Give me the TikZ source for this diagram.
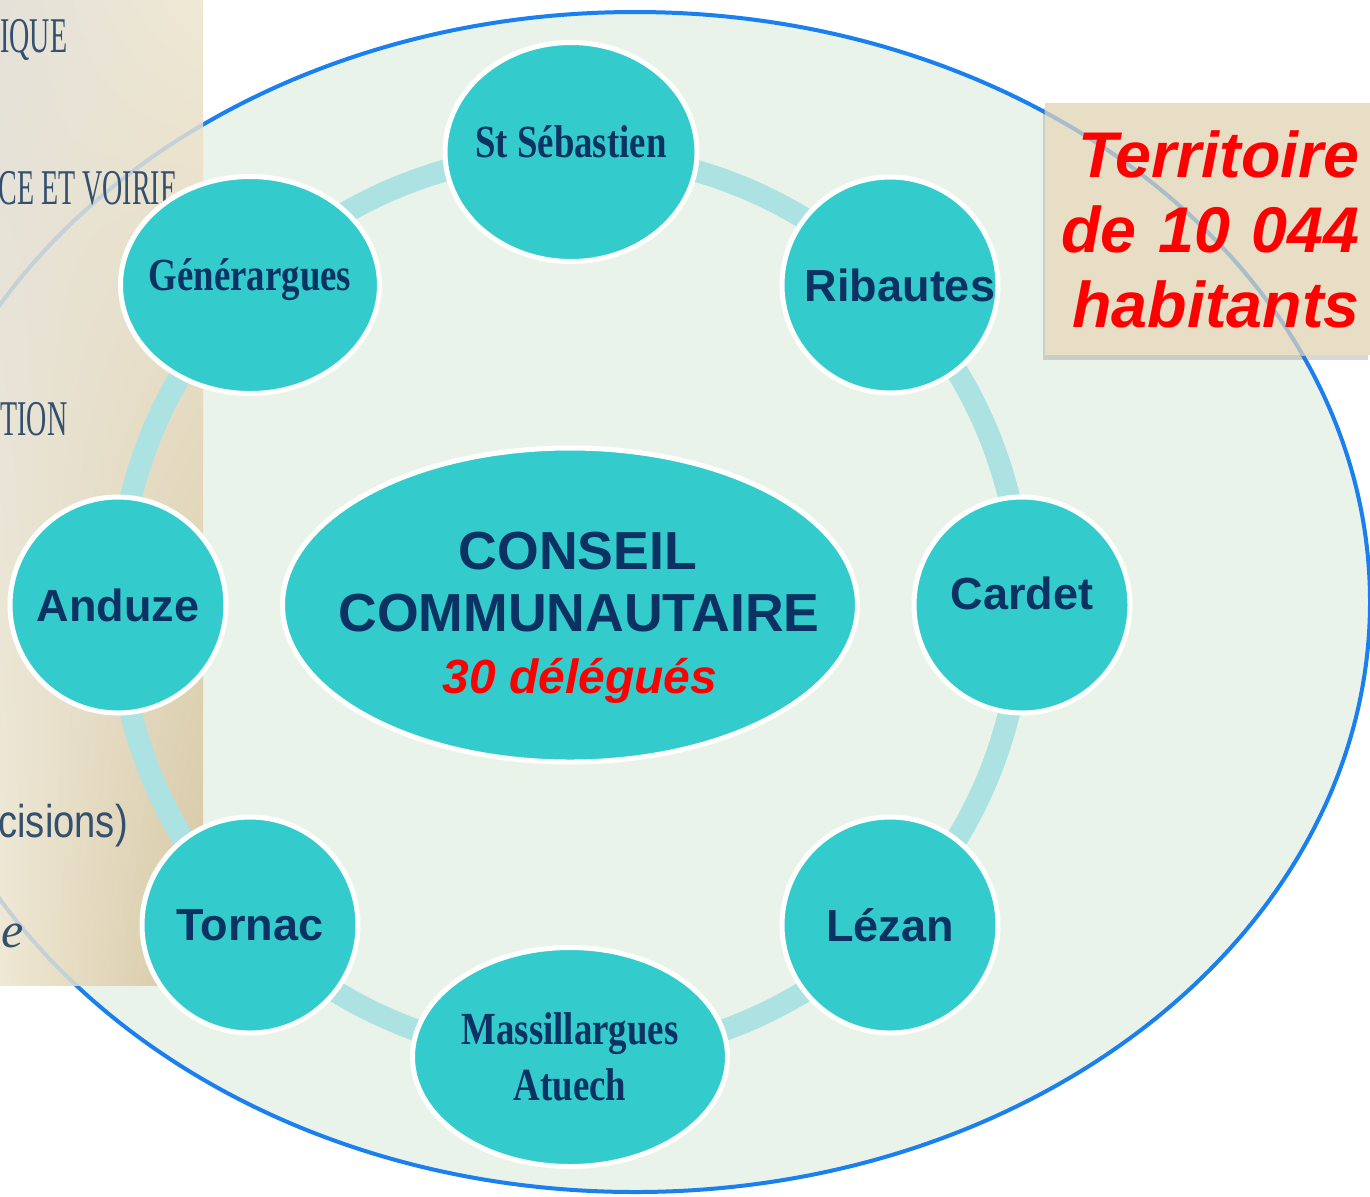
\documentclass[tikz,border=0pt]{standalone}
\usepackage{fontspec}
\setmainfont{Liberation Sans}
\newfontfamily\townfont[FakeStretch=0.8]{Liberation Serif}
\newfontfamily\panelfont[FakeStretch=0.56]{Liberation Serif}
\newfontfamily\narrowfont[FakeStretch=0.83]{Liberation Sans}
\newfontfamily\slantfont{Liberation Serif}
\usetikzlibrary{shapes.geometric,shadows,shadings}

\definecolor{nodeteal}{HTML}{33CBCC}
\definecolor{navy}{HTML}{0C3263}
\definecolor{ringteal}{HTML}{ACE2E2}
\definecolor{zonefill}{HTML}{EAF3EA}
\definecolor{zoneblue}{HTML}{1A7FEF}
\definecolor{fadedblue}{HTML}{C4D2D8}
\definecolor{boxline}{HTML}{A8BCCB}
\definecolor{slatetext}{HTML}{33506E}
\definecolor{panelA}{HTML}{E4E1D8}
\definecolor{panelB}{HTML}{EFE8D4}
\definecolor{panelC}{HTML}{D6C7A3}
\definecolor{boxbeige}{HTML}{E8DEC6}

% keeps a label from widening its ellipse
\newcommand\slimlabel[1]{\makebox[0pt]{#1}}

\tikzset{
	commune/.style={ellipse, fill=nodeteal, draw=white, line width=2.5pt, inner sep=0pt,
		text=navy, align=center, font=\bfseries\fontsize{22.5}{26}\selectfont},
	town/.style={commune, font=\townfont\bfseries\fontsize{23}{28}\selectfont},
	paneltext/.style={anchor=base west, inner sep=0pt, text=slatetext,
		font=\panelfont\fontsize{25}{30}\selectfont},
	territory/.style={rectangle, fill=boxbeige, minimum width=162.5pt, minimum height=126pt,
		drop shadow={shadow xshift=-1pt, shadow yshift=-2.5pt, opacity=0.25, fill=black!60}},
}

\begin{document}
\begin{tikzpicture}[x=0.5pt,y=-0.5pt]
	\useasboundingbox (0,0) rectangle (1370,1196);
	\fill[white] (0,0) rectangle (1370,1196);
	% territory outline
	\coordinate (zone) at (635,602);
	\filldraw[fill=zonefill, draw=zoneblue, line width=2pt] (zone) ellipse [x radius=367.5pt, y radius=295pt];
	% slide panel on the left
	\shade[upper left=panelA, upper right=panelB, lower left=panelB, lower right=panelC] (0,0) rectangle (203,985);
	\begin{scope}
		\clip (0,0) rectangle (203,985);
		\draw[fadedblue, line width=2pt] (zone) ellipse [x radius=367.5pt, y radius=295pt];
	\end{scope}
	\node[paneltext] (p1) at (0,52) {IQUE};
	\node[paneltext] (p2) at (-2,204) {CE ET VOIRIE};
	\node[paneltext] (p3) at (0,435) {TION};
	\node[anchor=base west, inner sep=0pt, text=slatetext, font=\narrowfont\fontsize{23}{28}\selectfont] (p4) at (-2,837) {cisions)};
	\node[anchor=base west, inner sep=0pt, text=slatetext, font=\slantfont\itshape\fontsize{25}{30}\selectfont] (p5) at (1,947) {e};
	% ring of communes
	\coordinate (hub) at (570,605);
	\draw[ringteal, line width=11pt] (hub) circle [radius=226pt];
	\node[town, minimum width=126pt, minimum height=109.5pt, text depth=10pt] (sebastien) at (571,152) {\slimlabel{St Sébastien}};
	\node[commune, minimum size=108pt] (ribautes) at (890,285) {\slimlabel{\hspace{10pt}Ribautes}};
	\node[commune, minimum size=108pt, text depth=12pt] (cardet) at (1022,605) {\slimlabel{Cardet}};
	\node[commune, minimum size=108pt] (lezan) at (890,925) {\slimlabel{Lézan}};
	\node[town, minimum width=157.5pt, minimum height=109.5pt] (massillargues) at (570,1057) {\slimlabel{Massillargues}\\\slimlabel{Atuech}};
	\node[commune, minimum size=108pt] (tornac) at (250,925) {\slimlabel{Tornac}};
	\node[commune, minimum size=108pt] (anduze) at (118,605) {\slimlabel{Anduze}};
	\node[town, minimum width=129.5pt, minimum height=108.5pt, text depth=10pt] (generargues) at (250,285) {\slimlabel{Générargues}};
	% council
	\node[commune, minimum width=287.5pt, minimum height=157pt, text height=93pt, font=\bfseries\fontsize{26.8}{31}\selectfont] (conseil) at (hub)
		{\slimlabel{\hspace{8pt}CONSEIL}\\\slimlabel{\hspace{9pt}COMMUNAUTAIRE}\\\slimlabel{\hspace{10pt}\color{red}\itshape\fontsize{24}{31}\selectfont 30 délégués}};
	% population box
	\node[territory] (pop) at (1207.5,229) {};
	\begin{scope}
		\clip (pop.south west) rectangle (pop.north east);
		\draw[boxline, line width=2pt] (zone) ellipse [x radius=367.5pt, y radius=295pt];
	\end{scope}
	\node[text width=152pt, align=right, text=red, font=\bfseries\itshape\fontsize{32.3}{37.5}\selectfont] (poptext) at (pop)
		{Territoire\\de 10 044\\habitants};
\end{tikzpicture}
\end{document}
